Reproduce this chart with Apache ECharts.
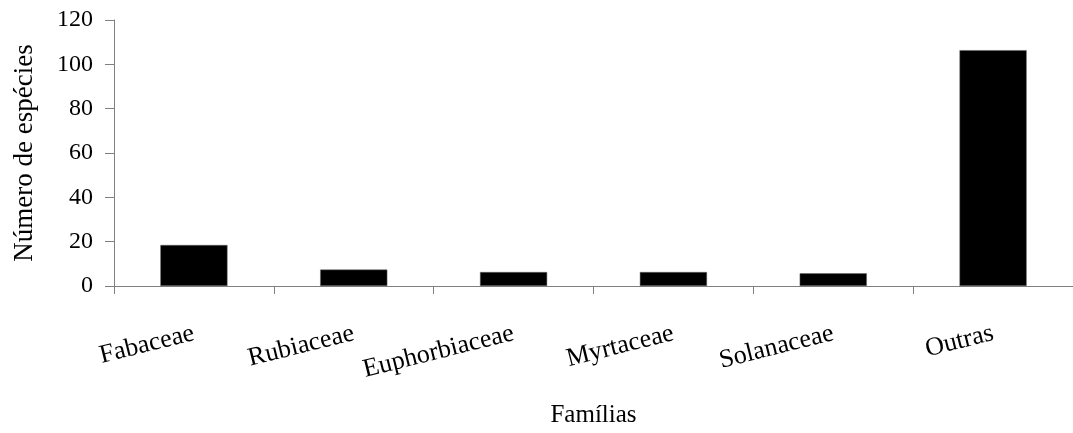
<!DOCTYPE html>
<html>
<head>
<meta charset="utf-8">
<script src="https://cdn.jsdelivr.net/npm/echarts@6/dist/echarts.min.js"></script>
<style>html,body{margin:0;padding:0;background:#fff;}#c{width:1073px;height:433px;}</style>
</head>
<body>
<div id="c"></div>
<script>
const categories = ['Fabaceae', 'Rubiaceae', 'Euphorbiaceae', 'Myrtaceae', 'Solanaceae', 'Outras'];
const especies = [18.5, 7.4, 6.3, 6.3, 5.7, 106.4];
const yTicks = [0, 20, 40, 60, 80, 100, 120];

const chart = echarts.init(document.getElementById('c'), null, {renderer: 'canvas'});
const font = '"Liberation Serif", "Times New Roman", serif';
chart.setOption({
  animation: false,
  backgroundColor: '#fff',
  grid: {left: 114, right: -1, top: 20, bottom: 143, containLabel: false},
  xAxis: {
    type: 'category',
    data: categories,
    name: 'Famílias',
    nameLocation: 'middle',
    nameGap: 117,
    nameTextStyle: {fontFamily: font, fontSize: 25, color: '#000'},
    axisLine: {lineStyle: {color: '#808080', width: 1}},
    axisTick: {show: true, length: 8, alignWithLabel: false, lineStyle: {color: '#808080'}},
    axisLabel: {rotate: 14, margin: 47, fontFamily: font, fontSize: 26, color: '#000', interval: 0}
  },
  yAxis: {
    type: 'value',
    min: yTicks[0],
    max: yTicks[yTicks.length - 1],
    interval: 20,
    name: 'Número de espécies',
    nameLocation: 'middle',
    nameGap: 76,
    nameRotate: 90,
    nameTextStyle: {fontFamily: font, fontSize: 27, color: '#000'},
    axisLine: {show: true, lineStyle: {color: '#808080', width: 1}},
    axisTick: {show: true, length: 9, lineStyle: {color: '#808080'}},
    splitLine: {show: false},
    axisLabel: {margin: 21, fontFamily: font, fontSize: 24, color: '#000'}
  },
  series: [{
    type: 'bar',
    data: especies,
    barWidth: '42%',
    itemStyle: {color: '#000', borderColor: '#666', borderWidth: 0.5}
  }]
});
</script>
</body>
</html>
